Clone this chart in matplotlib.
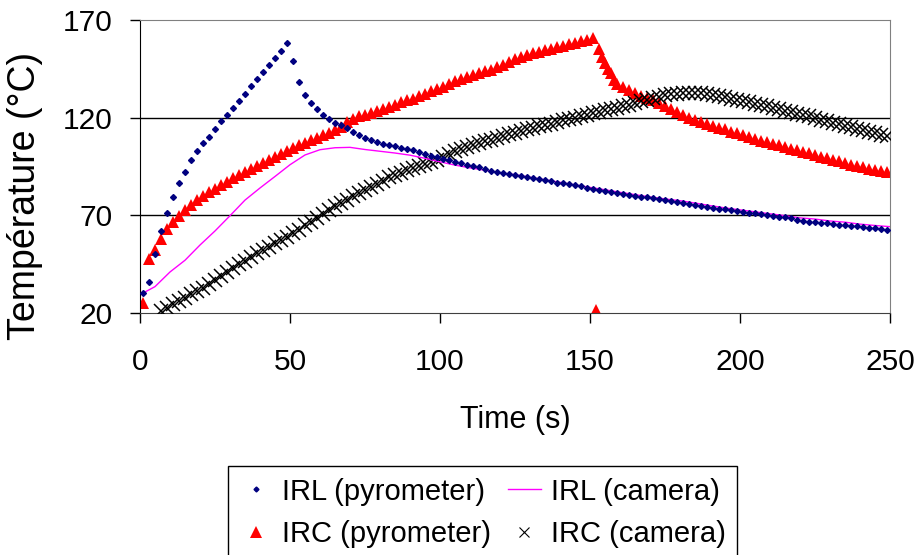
import matplotlib
matplotlib.use('Agg')
import matplotlib.pyplot as plt
from matplotlib.lines import Line2D

plt.rcParams['font.family'] = ['Liberation Sans', 'DejaVu Sans']

# IRL (pyrometer) - blue dots
irl_pyro_t = [1, 3, 5, 7, 9, 11, 13, 15, 17, 19, 21, 23, 25, 27, 29, 31, 33, 35, 37, 39,
              41, 43, 45, 47, 49, 51, 53, 55, 57, 59, 61, 63, 65, 67, 69, 71, 73, 75, 77, 79,
              81, 83, 85, 87, 89, 91, 93, 95, 97, 99, 101, 103, 105, 107, 109, 111, 113, 115, 117, 119,
              121, 123, 125, 127, 129, 131, 133, 135, 137, 139, 141, 143, 145, 147, 149, 151, 153, 155, 157, 159,
              161, 163, 165, 167, 169, 171, 173, 175, 177, 179, 181, 183, 185, 187, 189, 191, 193, 195, 197, 199,
              201, 203, 205, 207, 209, 211, 213, 215, 217, 219, 221, 223, 225, 227, 229, 231, 233, 235, 237, 239,
              241, 243, 245, 247, 249]
irl_pyro_T = [30, 36, 50, 62, 71, 79.5, 86.8, 92, 98.5, 102.7, 106.8, 110.2, 114.2, 118.2, 121.5, 124.7, 128.3, 132, 136, 139.8,
              143.3, 146.8, 150.5, 154, 158, 149, 138.5, 131.5, 127.6, 124.2, 121.6, 119.3, 117.5, 116, 114.5, 112.6, 111.2, 109.4, 108.4, 107.3,
              106.6, 106, 105.5, 104.6, 103.9, 103.2, 102.3, 101.4, 100.6, 99.8, 99, 98.2, 97.4, 96.7, 95.9, 95.2, 94.5, 93.7, 92.8, 92.1,
              91.6, 91.1, 90.7, 90.3, 89.7, 89.1, 88.5, 88, 87.4, 86.8, 86.3, 85.8, 85.3, 84.8, 84.2, 83.7, 83.2, 82.6, 82.1, 81.6,
              81.1, 80.6, 80.1, 79.6, 79.2, 78.7, 78.3, 77.8, 77.3, 76.8, 76.4, 76, 75.5, 75, 74.4, 73.9, 73.4, 73, 72.6, 72.2,
              71.8, 71.4, 71, 70.6, 70.2, 69.8, 69.4, 68.9, 68.5, 67.8, 67.2, 66.8, 66.5, 66.2, 65.9, 65.6, 65.3, 65, 64.7, 64.3,
              64, 63.6, 63.3, 63, 62.6]

# IRL (camera) - magenta line
irl_cam_t = [1, 5, 10, 15, 20, 25, 30, 35, 40, 45, 50, 55, 60, 65, 70, 75, 80, 85, 90, 95,
             100, 105, 110, 115, 120, 125, 130, 135, 140, 145, 150, 155, 160, 165, 170, 175, 180, 185, 190, 195,
             200, 205, 210, 215, 220, 225, 230, 235, 240, 245, 250]
irl_cam_T = [30.2, 33.5, 41, 47, 54.8, 62, 69.8, 77.8, 84, 89.9, 95.9, 100.9, 103.6, 104.6, 104.8, 103.7, 102.8, 101.9, 100.8, 99.2,
             97.4, 95.7, 94.3, 93.1, 91.8, 90.8, 89.5, 88.2, 86.9, 85.6, 84.3, 83.1, 81.8, 80.6, 79.4, 78.4, 77.5, 76.3, 75, 73.8,
             72.8, 71.8, 70.8, 69.8, 68.7, 68.1, 67.1, 66.5, 65.5, 64.8, 64.2]

# IRC (pyrometer) - red triangles
irc_pyro_t = [1, 3, 5, 7, 9, 11, 13, 15, 17, 19, 21, 23, 25, 27, 29, 31, 33, 35, 37, 39,
              41, 43, 45, 47, 49, 51, 53, 55, 57, 59, 61, 63, 65, 67, 69, 71, 73, 75, 77, 79,
              81, 83, 85, 87, 89, 91, 93, 95, 97, 99, 101, 103, 105, 107, 109, 111, 113, 115, 117, 119,
              121, 123, 125, 127, 129, 131, 133, 135, 137, 139, 141, 143, 145, 147, 149, 151, 152, 153, 154, 155,
              156, 157, 158, 159, 161, 163, 165, 167, 169, 171, 173, 175, 177, 179, 181, 183, 185, 187, 189, 191,
              193, 195, 197, 199, 201, 203, 205, 207, 209, 211, 213, 215, 217, 219, 221, 223, 225, 227, 229, 231,
              233, 235, 237, 239, 241, 243, 245, 247, 249]
irc_pyro_T = [25, 47.5, 52.5, 58, 63, 66.5, 69.8, 72.7, 75.2, 77.6, 79.9, 81.8, 83.7, 85.4, 87.3, 89.2, 90.8, 92.4, 93.9, 95.3,
              96.8, 98.2, 99.8, 101.3, 102.8, 104.3, 105.8, 107.2, 108.5, 109.8, 111.1, 112.3, 113.6, 115.4, 117.6, 119.4, 120.6, 121.6, 122.6, 123.5,
              124.5, 125.4, 126.6, 127.8, 128.8, 129.8, 131.1, 132.3, 133.5, 134.7, 135.9, 137.3, 138.7, 140, 140.9, 141.8, 142.7, 143.7, 144.6, 145.7,
              147.1, 148.5, 149.9, 151.2, 152.2, 153, 153.8, 154.6, 155.3, 156, 156.8, 157.6, 158.4, 159.2, 160, 161, 21.5, 155, 151, 147.8,
              145, 142.7, 139.5, 137.3, 135.5, 134, 132.4, 131, 130, 129, 127.5, 126, 124.4, 122.8, 121.2, 119.6, 118.6, 117.6, 116.7, 115.8,
              114.9, 114, 112.9, 111.9, 110.9, 110, 109.1, 108.3, 107.5, 106.7, 105.9, 105, 104.2, 103.4, 102.6, 101.8, 101, 100.1, 99.3, 98.5,
              97.6, 96.8, 96, 95.3, 94.6, 93.7, 93.2, 92.7, 92.3]

# IRC (camera) - black crosses
irc_cam_t = [7, 9, 11, 13, 15, 17, 19, 21, 23, 25, 27, 29, 31, 33, 35, 37, 39,
             41, 43, 45, 47, 49, 51, 53, 55, 57, 59, 61, 63, 65, 67, 69, 71, 73, 75, 77, 79,
             81, 83, 85, 87, 89, 91, 93, 95, 97, 99, 101, 103, 105, 107, 109, 111, 113, 115, 117, 119,
             121, 123, 125, 127, 129, 131, 133, 135, 137, 139, 141, 143, 145, 147, 149, 151, 153, 155, 157, 159,
             161, 163, 165, 167, 169, 171, 173, 175, 177, 179, 181, 183, 185, 187, 189, 191, 193, 195, 197, 199,
             201, 203, 205, 207, 209, 211, 213, 215, 217, 219, 221, 223, 225, 227, 229, 231, 233, 235, 237, 239,
             241, 243, 245, 247, 249]
irc_cam_T = [21, 22.8, 24.5, 26.2, 27.9, 29.6, 31.2, 33, 35, 37, 39, 41, 43, 44.9, 46.8, 48.7, 50.5,
             52.3, 54, 55.8, 57.5, 59.1, 60.8, 62.7, 64.8, 66.8, 68.8, 70.8, 72.8, 74.6, 76.3, 78, 79.7, 81.4, 83, 84.6, 86.2,
             87.8, 89.4, 90.8, 91.9, 93, 94.1, 95.1, 96.1, 97.2, 98.5, 99.9, 101.3, 102.8, 104.2, 105.1, 106, 106.9, 107.8, 108.7, 109.7,
             110.6, 111.5, 112.4, 113.3, 114, 114.8, 115.5, 116.3, 117, 117.8, 118.6, 119.3, 120, 120.8, 121.6, 122.3, 123, 123.7, 124.4, 125.1,
             125.8, 126.6, 127.5, 128.4, 129.3, 130.2, 130.8, 131.4, 131.9, 132.3, 132.7, 132.8, 132.8, 132.6, 132.2, 131.6, 131, 130.4, 129.7, 129,
             128.4, 127.8, 127.2, 126.5, 125.8, 125.1, 124.4, 123.6, 122.8, 122, 121.3, 120.6, 119.8, 119, 118.2, 117.4, 116.7, 115.9, 115.1, 114.3,
             113.5, 112.8, 112, 111.2, 110.5]

fig = plt.figure(figsize=(9.19, 5.55), dpi=100)
ax = fig.add_axes([140 / 919, 1 - 313 / 555, 750 / 919, 293 / 555])

ax.plot(irc_cam_t, irc_cam_T, ls='none', marker='x', ms=10, mew=1.1, color='black', zorder=3)
ax.plot(irl_cam_t, irl_cam_T, ls='-', lw=1, color='#FF00FF', zorder=4)
ax.plot(irl_pyro_t, irl_pyro_T, ls='none', marker='D', ms=3, color='#000080', zorder=5)
ax.plot(irc_pyro_t, irc_pyro_T, ls='none', marker='^', ms=9, mew=0, color='#FF0000', zorder=2)

ax.set_xlim(0, 250)
ax.set_ylim(20, 170)
ax.set_xticks([0, 50, 100, 150, 200, 250])
ax.set_yticks([20, 70, 120, 170])
for yv in [70, 120]:
    ax.axhline(yv, color='black', lw=1, zorder=1)
ax.tick_params(axis='both', labelsize=21.5, direction='out', length=7, width=1, colors='black')
ax.tick_params(axis='x', pad=18)
ax.tick_params(axis='y', pad=13)
for s in ['top', 'right']:
    ax.spines[s].set_color('#808080')
ax.spines['left'].set_color('black')
ax.spines['bottom'].set_color('#404040')

ax.set_xlabel('Time (s)', fontsize=22, labelpad=21)
ax.set_ylabel('Température (°C)', fontsize=27)
ax.yaxis.set_label_coords(-0.129, 0.4)

handles = [
    Line2D([], [], ls='none', marker='D', ms=2.5, color='#000080'),
    Line2D([], [], ls='none', marker='^', ms=8, mew=0, color='#FF0000'),
    Line2D([], [], ls='-', lw=1, color='#FF00FF'),
    Line2D([], [], ls='none', marker='x', ms=7, mew=0.8, color='black'),
]
labels = ['IRL (pyrometer)', 'IRC (pyrometer)', 'IRL (camera)', 'IRC (camera)']
leg = fig.legend(handles, labels, ncol=2, loc='upper left', bbox_to_anchor=(228 / 919, 1 - 466 / 555),
                 fontsize=21, frameon=True, fancybox=False, framealpha=1, edgecolor='black',
                 handlelength=1.1, handletextpad=0.35, columnspacing=0.6, labelspacing=0.5,
                 borderpad=0.4, borderaxespad=0)
leg.get_frame().set_linewidth(1)

fig.savefig('out.png', dpi=100)
